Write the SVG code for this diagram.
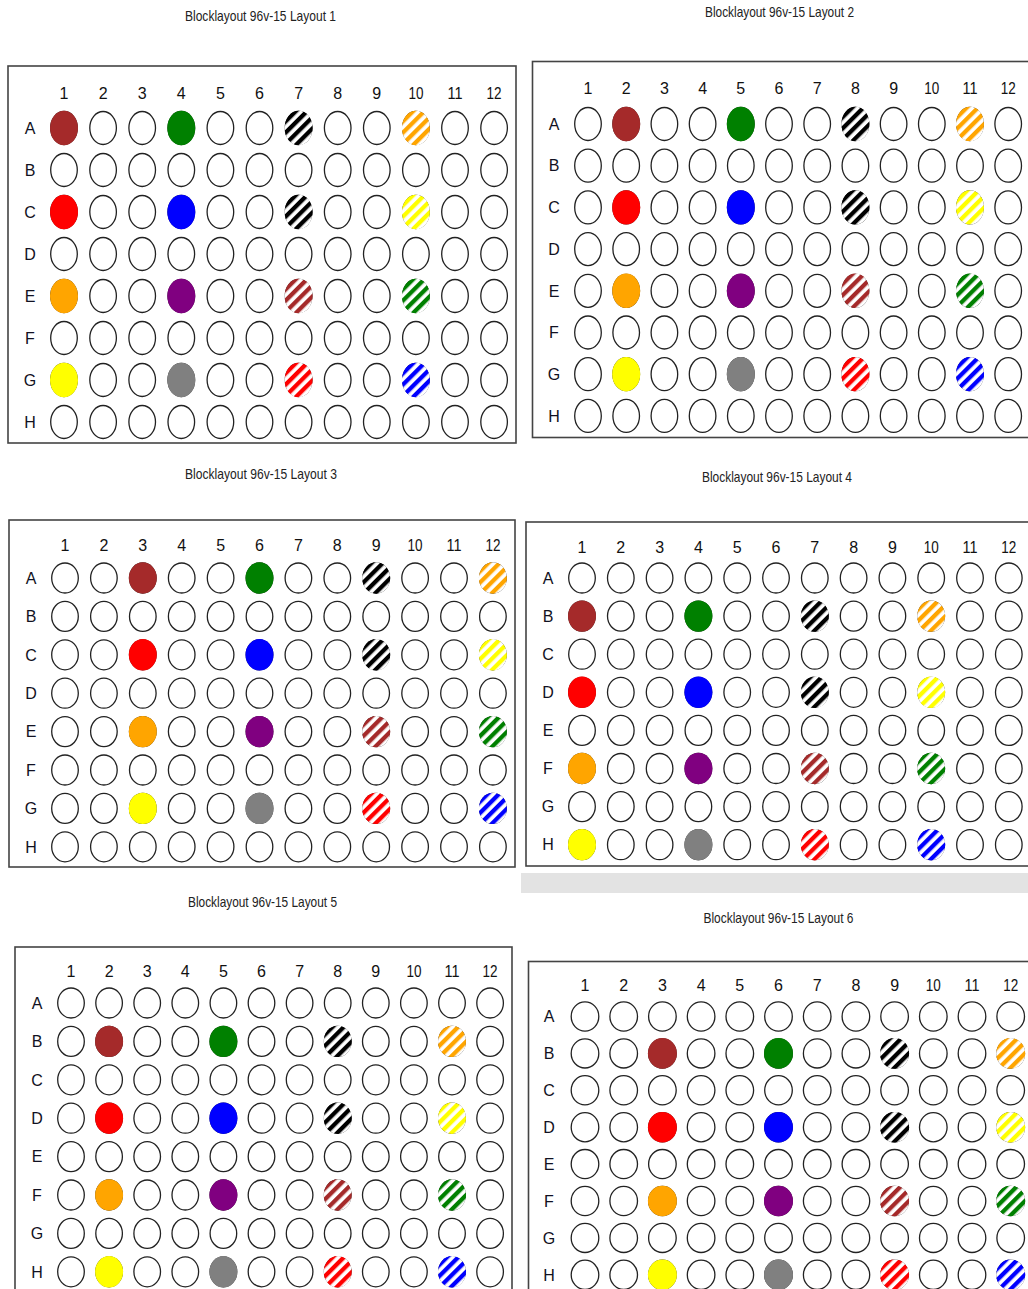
<svg xmlns="http://www.w3.org/2000/svg" xmlns:xlink="http://www.w3.org/1999/xlink" width="1028" height="1289" viewBox="0 0 1028 1289">
<style>
.w{fill:#fff;stroke:#222;stroke-width:1.3}
.pl{fill:#fff;stroke:#444;stroke-width:1.6}
.t{font-family:"Liberation Sans",Arial,sans-serif;font-size:14.5px;fill:#222;text-anchor:middle}
.c{font-family:"Liberation Sans",Arial,sans-serif;font-size:16px;fill:#111;text-anchor:middle}
.r{font-family:"Liberation Sans",Arial,sans-serif;font-size:16px;fill:#111122;text-anchor:middle}
</style>
<defs>
<pattern id="hk" width="8" height="8" patternUnits="userSpaceOnUse" patternTransform="rotate(45)"><rect width="8" height="8" fill="#fff"/><rect width="4.3" height="8" fill="#000"/></pattern>
<pattern id="ho" width="8" height="8" patternUnits="userSpaceOnUse" patternTransform="rotate(45)"><rect width="8" height="8" fill="#fff"/><rect width="4.3" height="8" fill="#ffa500"/></pattern>
<pattern id="hy" width="8" height="8" patternUnits="userSpaceOnUse" patternTransform="rotate(45)"><rect width="8" height="8" fill="#fff"/><rect width="4.3" height="8" fill="#ffff00"/></pattern>
<pattern id="hb" width="8" height="8" patternUnits="userSpaceOnUse" patternTransform="rotate(45)"><rect width="8" height="8" fill="#fff"/><rect width="4.3" height="8" fill="#a52a2a"/></pattern>
<pattern id="hg" width="8" height="8" patternUnits="userSpaceOnUse" patternTransform="rotate(45)"><rect width="8" height="8" fill="#fff"/><rect width="4.3" height="8" fill="#008000"/></pattern>
<pattern id="hr" width="8" height="8" patternUnits="userSpaceOnUse" patternTransform="rotate(45)"><rect width="8" height="8" fill="#fff"/><rect width="4.3" height="8" fill="#ff0000"/></pattern>
<pattern id="hu" width="8" height="8" patternUnits="userSpaceOnUse" patternTransform="rotate(45)"><rect width="8" height="8" fill="#fff"/><rect width="4.3" height="8" fill="#0000ff"/></pattern>
<g id="r1"><ellipse class="w" cx="64" rx="13.3" ry="16.5"/><ellipse class="w" cx="103.1" rx="13.3" ry="16.5"/><ellipse class="w" cx="142.2" rx="13.3" ry="16.5"/><ellipse class="w" cx="181.3" rx="13.3" ry="16.5"/><ellipse class="w" cx="220.4" rx="13.3" ry="16.5"/><ellipse class="w" cx="259.5" rx="13.3" ry="16.5"/><ellipse class="w" cx="298.6" rx="13.3" ry="16.5"/><ellipse class="w" cx="337.7" rx="13.3" ry="16.5"/><ellipse class="w" cx="376.8" rx="13.3" ry="16.5"/><ellipse class="w" cx="415.9" rx="13.3" ry="16.5"/><ellipse class="w" cx="455" rx="13.3" ry="16.5"/><ellipse class="w" cx="494.1" rx="13.3" ry="16.5"/></g>
<g id="r2"><ellipse class="w" cx="588" rx="13.3" ry="16.5"/><ellipse class="w" cx="626.2" rx="13.3" ry="16.5"/><ellipse class="w" cx="664.4" rx="13.3" ry="16.5"/><ellipse class="w" cx="702.6" rx="13.3" ry="16.5"/><ellipse class="w" cx="740.8" rx="13.3" ry="16.5"/><ellipse class="w" cx="779" rx="13.3" ry="16.5"/><ellipse class="w" cx="817.2" rx="13.3" ry="16.5"/><ellipse class="w" cx="855.4" rx="13.3" ry="16.5"/><ellipse class="w" cx="893.6" rx="13.3" ry="16.5"/><ellipse class="w" cx="931.8" rx="13.3" ry="16.5"/><ellipse class="w" cx="970" rx="13.3" ry="16.5"/><ellipse class="w" cx="1008.2" rx="13.3" ry="16.5"/></g>
<g id="r3"><ellipse class="w" cx="65" rx="13.3" ry="15"/><ellipse class="w" cx="103.9" rx="13.3" ry="15"/><ellipse class="w" cx="142.8" rx="13.3" ry="15"/><ellipse class="w" cx="181.7" rx="13.3" ry="15"/><ellipse class="w" cx="220.6" rx="13.3" ry="15"/><ellipse class="w" cx="259.5" rx="13.3" ry="15"/><ellipse class="w" cx="298.4" rx="13.3" ry="15"/><ellipse class="w" cx="337.3" rx="13.3" ry="15"/><ellipse class="w" cx="376.2" rx="13.3" ry="15"/><ellipse class="w" cx="415.1" rx="13.3" ry="15"/><ellipse class="w" cx="454" rx="13.3" ry="15"/><ellipse class="w" cx="492.9" rx="13.3" ry="15"/></g>
<g id="r4"><ellipse class="w" cx="582" rx="13.3" ry="15"/><ellipse class="w" cx="620.8" rx="13.3" ry="15"/><ellipse class="w" cx="659.6" rx="13.3" ry="15"/><ellipse class="w" cx="698.4" rx="13.3" ry="15"/><ellipse class="w" cx="737.2" rx="13.3" ry="15"/><ellipse class="w" cx="776" rx="13.3" ry="15"/><ellipse class="w" cx="814.8" rx="13.3" ry="15"/><ellipse class="w" cx="853.6" rx="13.3" ry="15"/><ellipse class="w" cx="892.4" rx="13.3" ry="15"/><ellipse class="w" cx="931.2" rx="13.3" ry="15"/><ellipse class="w" cx="970" rx="13.3" ry="15"/><ellipse class="w" cx="1008.8" rx="13.3" ry="15"/></g>
<g id="r5"><ellipse class="w" cx="71" rx="13.3" ry="15"/><ellipse class="w" cx="109.1" rx="13.3" ry="15"/><ellipse class="w" cx="147.2" rx="13.3" ry="15"/><ellipse class="w" cx="185.3" rx="13.3" ry="15"/><ellipse class="w" cx="223.4" rx="13.3" ry="15"/><ellipse class="w" cx="261.5" rx="13.3" ry="15"/><ellipse class="w" cx="299.6" rx="13.3" ry="15"/><ellipse class="w" cx="337.7" rx="13.3" ry="15"/><ellipse class="w" cx="375.8" rx="13.3" ry="15"/><ellipse class="w" cx="413.9" rx="13.3" ry="15"/><ellipse class="w" cx="452" rx="13.3" ry="15"/><ellipse class="w" cx="490.1" rx="13.3" ry="15"/></g>
<g id="r6"><ellipse class="w" cx="585" rx="13.8" ry="14.6"/><ellipse class="w" cx="623.7" rx="13.8" ry="14.6"/><ellipse class="w" cx="662.4" rx="13.8" ry="14.6"/><ellipse class="w" cx="701.1" rx="13.8" ry="14.6"/><ellipse class="w" cx="739.8" rx="13.8" ry="14.6"/><ellipse class="w" cx="778.5" rx="13.8" ry="14.6"/><ellipse class="w" cx="817.2" rx="13.8" ry="14.6"/><ellipse class="w" cx="855.9" rx="13.8" ry="14.6"/><ellipse class="w" cx="894.6" rx="13.8" ry="14.6"/><ellipse class="w" cx="933.3" rx="13.8" ry="14.6"/><ellipse class="w" cx="972" rx="13.8" ry="14.6"/><ellipse class="w" cx="1010.7" rx="13.8" ry="14.6"/></g>
<ellipse id="fA" rx="14" ry="17.2"/>
<ellipse id="fB" rx="14" ry="15.7"/>
<ellipse id="fC" rx="14.5" ry="15.3"/>
</defs>
<rect width="1028" height="1289" fill="#fff"/>

<g id="layout1">
<text class="t" x="260.5" y="21" textLength="151" lengthAdjust="spacingAndGlyphs">Blocklayout 96v-15 Layout 1</text>
<rect class="pl" x="8" y="66" width="508" height="377"/>
<g class="c"><text x="64" y="99">1</text><text x="103.1" y="99">2</text><text x="142.2" y="99">3</text><text x="181.3" y="99">4</text><text x="220.4" y="99">5</text><text x="259.5" y="99">6</text><text x="298.6" y="99">7</text><text x="337.7" y="99">8</text><text x="376.8" y="99">9</text><text x="415.9" y="99" textLength="15" lengthAdjust="spacingAndGlyphs">10</text><text x="455" y="99" textLength="15" lengthAdjust="spacingAndGlyphs">11</text><text x="494.1" y="99" textLength="15" lengthAdjust="spacingAndGlyphs">12</text></g>
<g class="r"><text x="30" y="133.7">A</text><text x="30" y="175.7">B</text><text x="30" y="217.7">C</text><text x="30" y="259.7">D</text><text x="30" y="301.7">E</text><text x="30" y="343.7">F</text><text x="30" y="385.7">G</text><text x="30" y="427.7">H</text></g>
<use href="#r1" y="128"/><use href="#r1" y="170"/><use href="#r1" y="212"/><use href="#r1" y="254"/><use href="#r1" y="296"/><use href="#r1" y="338"/><use href="#r1" y="380"/><use href="#r1" y="422"/>
<use href="#fA" x="64" y="128" fill="#a52a2a"/><use href="#fA" x="181.3" y="128" fill="#008000"/><use href="#fA" x="298.6" y="128" fill="url(#hk)"/><use href="#fA" x="415.9" y="128" fill="url(#ho)"/>
<use href="#fA" x="64" y="212" fill="#ff0000"/><use href="#fA" x="181.3" y="212" fill="#0000ff"/><use href="#fA" x="298.6" y="212" fill="url(#hk)"/><use href="#fA" x="415.9" y="212" fill="url(#hy)"/>
<use href="#fA" x="64" y="296" fill="#ffa500"/><use href="#fA" x="181.3" y="296" fill="#800080"/><use href="#fA" x="298.6" y="296" fill="url(#hb)"/><use href="#fA" x="415.9" y="296" fill="url(#hg)"/>
<use href="#fA" x="64" y="380" fill="#ffff00"/><use href="#fA" x="181.3" y="380" fill="#808080"/><use href="#fA" x="298.6" y="380" fill="url(#hr)"/><use href="#fA" x="415.9" y="380" fill="url(#hu)"/>
</g>

<g id="layout2">
<text class="t" x="779.5" y="17" textLength="149" lengthAdjust="spacingAndGlyphs">Blocklayout 96v-15 Layout 2</text>
<rect class="pl" x="532.5" y="61.5" width="520" height="376"/>
<g class="c"><text x="588" y="94">1</text><text x="626.2" y="94">2</text><text x="664.4" y="94">3</text><text x="702.6" y="94">4</text><text x="740.8" y="94">5</text><text x="779" y="94">6</text><text x="817.2" y="94">7</text><text x="855.4" y="94">8</text><text x="893.6" y="94">9</text><text x="931.8" y="94" textLength="15" lengthAdjust="spacingAndGlyphs">10</text><text x="970" y="94" textLength="15" lengthAdjust="spacingAndGlyphs">11</text><text x="1008.2" y="94" textLength="15" lengthAdjust="spacingAndGlyphs">12</text></g>
<g class="r"><text x="554" y="129.7">A</text><text x="554" y="171.4">B</text><text x="554" y="213.1">C</text><text x="554" y="254.8">D</text><text x="554" y="296.5">E</text><text x="554" y="338.2">F</text><text x="554" y="379.9">G</text><text x="554" y="421.6">H</text></g>
<use href="#r2" y="124"/><use href="#r2" y="165.7"/><use href="#r2" y="207.4"/><use href="#r2" y="249.1"/><use href="#r2" y="290.8"/><use href="#r2" y="332.5"/><use href="#r2" y="374.2"/><use href="#r2" y="415.9"/>
<use href="#fA" x="626.2" y="124" fill="#a52a2a"/><use href="#fA" x="740.8" y="124" fill="#008000"/><use href="#fA" x="855.4" y="124" fill="url(#hk)"/><use href="#fA" x="970" y="124" fill="url(#ho)"/>
<use href="#fA" x="626.2" y="207.4" fill="#ff0000"/><use href="#fA" x="740.8" y="207.4" fill="#0000ff"/><use href="#fA" x="855.4" y="207.4" fill="url(#hk)"/><use href="#fA" x="970" y="207.4" fill="url(#hy)"/>
<use href="#fA" x="626.2" y="290.8" fill="#ffa500"/><use href="#fA" x="740.8" y="290.8" fill="#800080"/><use href="#fA" x="855.4" y="290.8" fill="url(#hb)"/><use href="#fA" x="970" y="290.8" fill="url(#hg)"/>
<use href="#fA" x="626.2" y="374.2" fill="#ffff00"/><use href="#fA" x="740.8" y="374.2" fill="#808080"/><use href="#fA" x="855.4" y="374.2" fill="url(#hr)"/><use href="#fA" x="970" y="374.2" fill="url(#hu)"/>
</g>

<g id="layout3">
<text class="t" x="261" y="479" textLength="152" lengthAdjust="spacingAndGlyphs">Blocklayout 96v-15 Layout 3</text>
<rect class="pl" x="9" y="520" width="506" height="347"/>
<g class="c"><text x="65" y="551">1</text><text x="103.9" y="551">2</text><text x="142.8" y="551">3</text><text x="181.7" y="551">4</text><text x="220.6" y="551">5</text><text x="259.5" y="551">6</text><text x="298.4" y="551">7</text><text x="337.3" y="551">8</text><text x="376.2" y="551">9</text><text x="415.1" y="551" textLength="15" lengthAdjust="spacingAndGlyphs">10</text><text x="454" y="551" textLength="15" lengthAdjust="spacingAndGlyphs">11</text><text x="492.9" y="551" textLength="15" lengthAdjust="spacingAndGlyphs">12</text></g>
<g class="r"><text x="31" y="583.7">A</text><text x="31" y="622.1">B</text><text x="31" y="660.5">C</text><text x="31" y="698.9">D</text><text x="31" y="737.3">E</text><text x="31" y="775.7">F</text><text x="31" y="814.1">G</text><text x="31" y="852.5">H</text></g>
<use href="#r3" y="578"/><use href="#r3" y="616.4"/><use href="#r3" y="654.8"/><use href="#r3" y="693.2"/><use href="#r3" y="731.6"/><use href="#r3" y="770"/><use href="#r3" y="808.4"/><use href="#r3" y="846.8"/>
<use href="#fB" x="142.8" y="578" fill="#a52a2a"/><use href="#fB" x="259.5" y="578" fill="#008000"/><use href="#fB" x="376.2" y="578" fill="url(#hk)"/><use href="#fB" x="492.9" y="578" fill="url(#ho)"/>
<use href="#fB" x="142.8" y="654.8" fill="#ff0000"/><use href="#fB" x="259.5" y="654.8" fill="#0000ff"/><use href="#fB" x="376.2" y="654.8" fill="url(#hk)"/><use href="#fB" x="492.9" y="654.8" fill="url(#hy)"/>
<use href="#fB" x="142.8" y="731.6" fill="#ffa500"/><use href="#fB" x="259.5" y="731.6" fill="#800080"/><use href="#fB" x="376.2" y="731.6" fill="url(#hb)"/><use href="#fB" x="492.9" y="731.6" fill="url(#hg)"/>
<use href="#fB" x="142.8" y="808.4" fill="#ffff00"/><use href="#fB" x="259.5" y="808.4" fill="#808080"/><use href="#fB" x="376.2" y="808.4" fill="url(#hr)"/><use href="#fB" x="492.9" y="808.4" fill="url(#hu)"/>
</g>

<g id="layout4">
<text class="t" x="777" y="482" textLength="150" lengthAdjust="spacingAndGlyphs">Blocklayout 96v-15 Layout 4</text>
<rect class="pl" x="526" y="522" width="520" height="344"/>
<g class="c"><text x="582" y="553">1</text><text x="620.8" y="553">2</text><text x="659.6" y="553">3</text><text x="698.4" y="553">4</text><text x="737.2" y="553">5</text><text x="776" y="553">6</text><text x="814.8" y="553">7</text><text x="853.6" y="553">8</text><text x="892.4" y="553">9</text><text x="931.2" y="553" textLength="15" lengthAdjust="spacingAndGlyphs">10</text><text x="970" y="553" textLength="15" lengthAdjust="spacingAndGlyphs">11</text><text x="1008.8" y="553" textLength="15" lengthAdjust="spacingAndGlyphs">12</text></g>
<g class="r"><text x="548" y="583.7">A</text><text x="548" y="621.8">B</text><text x="548" y="659.9">C</text><text x="548" y="698">D</text><text x="548" y="736.1">E</text><text x="548" y="774.2">F</text><text x="548" y="812.3">G</text><text x="548" y="850.4">H</text></g>
<use href="#r4" y="578"/><use href="#r4" y="616.1"/><use href="#r4" y="654.2"/><use href="#r4" y="692.3"/><use href="#r4" y="730.4"/><use href="#r4" y="768.5"/><use href="#r4" y="806.6"/><use href="#r4" y="844.7"/>
<use href="#fB" x="582" y="616.1" fill="#a52a2a"/><use href="#fB" x="698.4" y="616.1" fill="#008000"/><use href="#fB" x="814.8" y="616.1" fill="url(#hk)"/><use href="#fB" x="931.2" y="616.1" fill="url(#ho)"/>
<use href="#fB" x="582" y="692.3" fill="#ff0000"/><use href="#fB" x="698.4" y="692.3" fill="#0000ff"/><use href="#fB" x="814.8" y="692.3" fill="url(#hk)"/><use href="#fB" x="931.2" y="692.3" fill="url(#hy)"/>
<use href="#fB" x="582" y="768.5" fill="#ffa500"/><use href="#fB" x="698.4" y="768.5" fill="#800080"/><use href="#fB" x="814.8" y="768.5" fill="url(#hb)"/><use href="#fB" x="931.2" y="768.5" fill="url(#hg)"/>
<use href="#fB" x="582" y="844.7" fill="#ffff00"/><use href="#fB" x="698.4" y="844.7" fill="#808080"/><use href="#fB" x="814.8" y="844.7" fill="url(#hr)"/><use href="#fB" x="931.2" y="844.7" fill="url(#hu)"/>
</g>

<rect id="band" x="521" y="873" width="507" height="20" fill="#e3e3e3"/>

<g id="layout5">
<text class="t" x="262.5" y="906.5" textLength="149" lengthAdjust="spacingAndGlyphs">Blocklayout 96v-15 Layout 5</text>
<rect class="pl" x="15" y="947" width="497" height="400"/>
<g class="c"><text x="71" y="977">1</text><text x="109.1" y="977">2</text><text x="147.2" y="977">3</text><text x="185.3" y="977">4</text><text x="223.4" y="977">5</text><text x="261.5" y="977">6</text><text x="299.6" y="977">7</text><text x="337.7" y="977">8</text><text x="375.8" y="977">9</text><text x="413.9" y="977" textLength="15" lengthAdjust="spacingAndGlyphs">10</text><text x="452" y="977" textLength="15" lengthAdjust="spacingAndGlyphs">11</text><text x="490.1" y="977" textLength="15" lengthAdjust="spacingAndGlyphs">12</text></g>
<g class="r"><text x="37" y="1008.7">A</text><text x="37" y="1047.1">B</text><text x="37" y="1085.5">C</text><text x="37" y="1123.9">D</text><text x="37" y="1162.3">E</text><text x="37" y="1200.7">F</text><text x="37" y="1239.1">G</text><text x="37" y="1277.5">H</text></g>
<use href="#r5" y="1003"/><use href="#r5" y="1041.4"/><use href="#r5" y="1079.8"/><use href="#r5" y="1118.2"/><use href="#r5" y="1156.6"/><use href="#r5" y="1195"/><use href="#r5" y="1233.4"/><use href="#r5" y="1271.8"/>
<use href="#fB" x="109.1" y="1041.4" fill="#a52a2a"/><use href="#fB" x="223.4" y="1041.4" fill="#008000"/><use href="#fB" x="337.7" y="1041.4" fill="url(#hk)"/><use href="#fB" x="452" y="1041.4" fill="url(#ho)"/>
<use href="#fB" x="109.1" y="1118.2" fill="#ff0000"/><use href="#fB" x="223.4" y="1118.2" fill="#0000ff"/><use href="#fB" x="337.7" y="1118.2" fill="url(#hk)"/><use href="#fB" x="452" y="1118.2" fill="url(#hy)"/>
<use href="#fB" x="109.1" y="1195" fill="#ffa500"/><use href="#fB" x="223.4" y="1195" fill="#800080"/><use href="#fB" x="337.7" y="1195" fill="url(#hb)"/><use href="#fB" x="452" y="1195" fill="url(#hg)"/>
<use href="#fB" x="109.1" y="1271.8" fill="#ffff00"/><use href="#fB" x="223.4" y="1271.8" fill="#808080"/><use href="#fB" x="337.7" y="1271.8" fill="url(#hr)"/><use href="#fB" x="452" y="1271.8" fill="url(#hu)"/>
</g>

<g id="layout6">
<text class="t" x="778.5" y="922.5" textLength="150" lengthAdjust="spacingAndGlyphs">Blocklayout 96v-15 Layout 6</text>
<rect class="pl" x="528.5" y="961.5" width="520" height="400"/>
<g class="c"><text x="585" y="991">1</text><text x="623.7" y="991">2</text><text x="662.4" y="991">3</text><text x="701.1" y="991">4</text><text x="739.8" y="991">5</text><text x="778.5" y="991">6</text><text x="817.2" y="991">7</text><text x="855.9" y="991">8</text><text x="894.6" y="991">9</text><text x="933.3" y="991" textLength="15" lengthAdjust="spacingAndGlyphs">10</text><text x="972" y="991" textLength="15" lengthAdjust="spacingAndGlyphs">11</text><text x="1010.7" y="991" textLength="15" lengthAdjust="spacingAndGlyphs">12</text></g>
<g class="r"><text x="549" y="1022.2">A</text><text x="549" y="1059.1">B</text><text x="549" y="1096">C</text><text x="549" y="1132.9">D</text><text x="549" y="1169.8">E</text><text x="549" y="1206.7">F</text><text x="549" y="1243.6">G</text><text x="549" y="1280.5">H</text></g>
<use href="#r6" y="1016.5"/><use href="#r6" y="1053.4"/><use href="#r6" y="1090.3"/><use href="#r6" y="1127.2"/><use href="#r6" y="1164.1"/><use href="#r6" y="1201"/><use href="#r6" y="1237.9"/><use href="#r6" y="1274.8"/>
<use href="#fC" x="662.4" y="1053.4" fill="#a52a2a"/><use href="#fC" x="778.5" y="1053.4" fill="#008000"/><use href="#fC" x="894.6" y="1053.4" fill="url(#hk)"/><use href="#fC" x="1010.7" y="1053.4" fill="url(#ho)"/>
<use href="#fC" x="662.4" y="1127.2" fill="#ff0000"/><use href="#fC" x="778.5" y="1127.2" fill="#0000ff"/><use href="#fC" x="894.6" y="1127.2" fill="url(#hk)"/><use href="#fC" x="1010.7" y="1127.2" fill="url(#hy)"/>
<use href="#fC" x="662.4" y="1201" fill="#ffa500"/><use href="#fC" x="778.5" y="1201" fill="#800080"/><use href="#fC" x="894.6" y="1201" fill="url(#hb)"/><use href="#fC" x="1010.7" y="1201" fill="url(#hg)"/>
<use href="#fC" x="662.4" y="1274.8" fill="#ffff00"/><use href="#fC" x="778.5" y="1274.8" fill="#808080"/><use href="#fC" x="894.6" y="1274.8" fill="url(#hr)"/><use href="#fC" x="1010.7" y="1274.8" fill="url(#hu)"/>
</g>
</svg>
